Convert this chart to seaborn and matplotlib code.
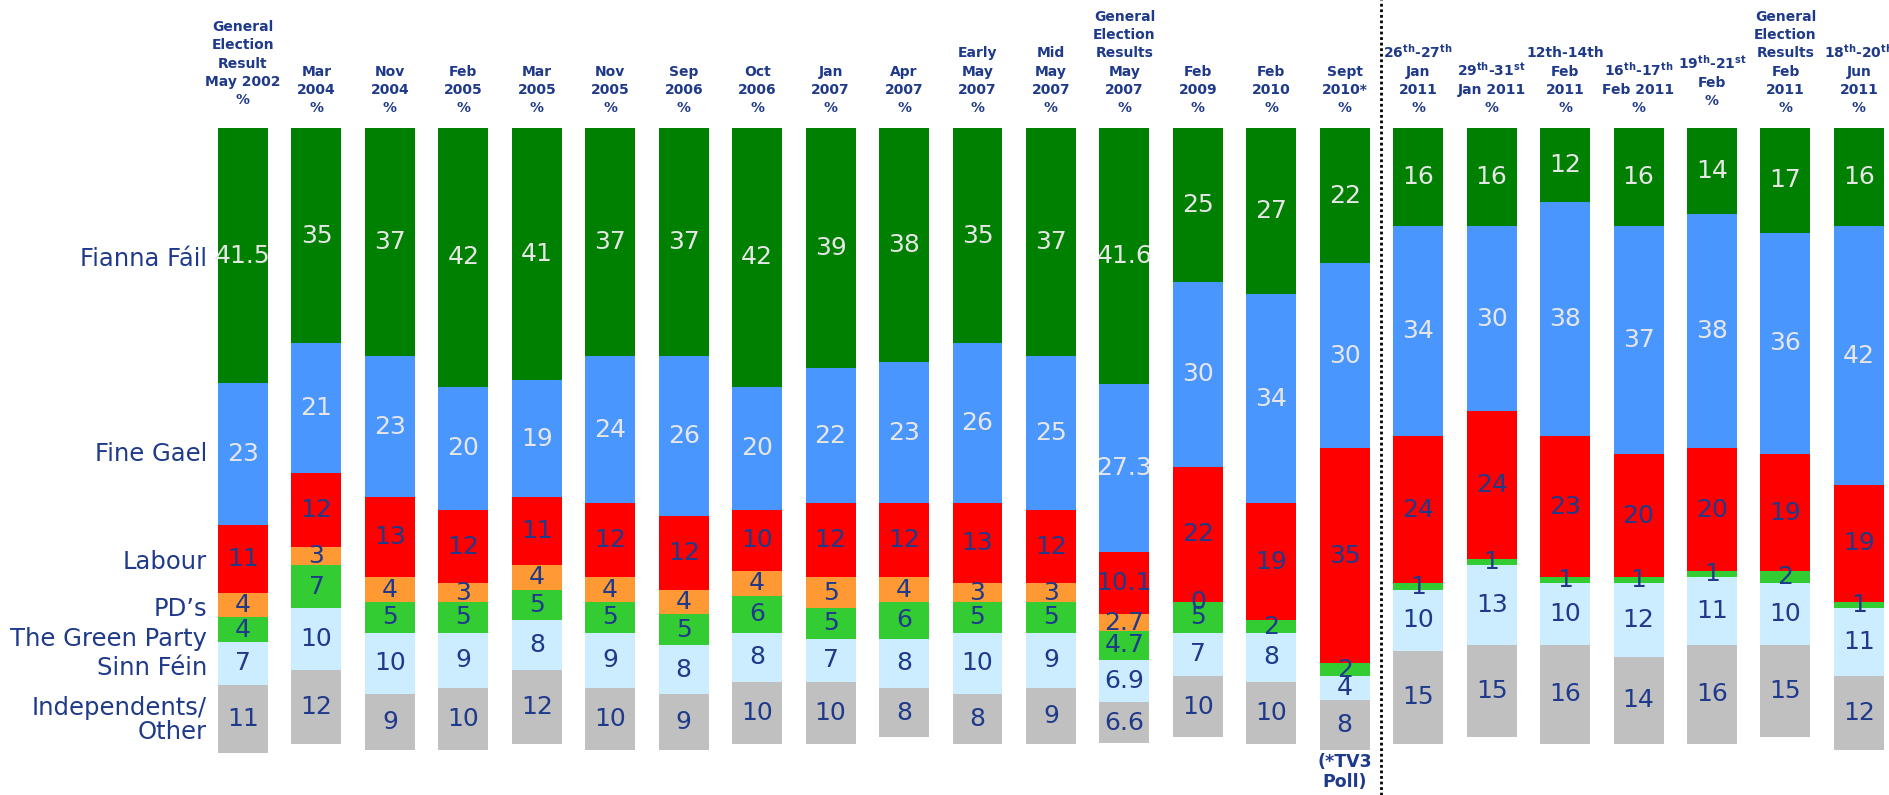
import numpy as np
import pandas as pd
import matplotlib
matplotlib.use("Agg")
import matplotlib.pyplot as plt
import seaborn as sns

# ---------------- data ----------------
headers = [
    "General\nElection\nResult\nMay 2002\n%",
    "Mar\n2004\n%", "Nov\n2004\n%", "Feb\n2005\n%", "Mar\n2005\n%",
    "Nov\n2005\n%", "Sep\n2006\n%", "Oct\n2006\n%", "Jan\n2007\n%",
    "Apr\n2007\n%", "Early\nMay\n2007\n%", "Mid\nMay\n2007\n%",
    "General\nElection\nResults\nMay\n2007\n%",
    "Feb\n2009\n%", "Feb\n2010\n%", "Sept\n2010*\n%",
    "26$^{th}$-27$^{th}$\nJan\n2011\n%",
    "29$^{th}$-31$^{st}$\nJan 2011\n%",
    "12th-14th\nFeb\n2011\n%",
    "16$^{th}$-17$^{th}$\nFeb 2011\n%",
    "19$^{th}$-21$^{st}$\nFeb\n%",
    "General\nElection\nResults\nFeb\n2011\n%",
    "18$^{th}$-20$^{th}$\nJun\n2011\n%",
]

parties = ["Fianna Fáil", "Fine Gael", "Labour", "PD\u2019s",
           "The Green Party", "Sinn Féin", "Independents/\nOther"]

nan = np.nan
fianna_fail = [41.5, 35, 37, 42, 41, 37, 37, 42, 39, 38, 35, 37, 41.6,
               25, 27, 22, 16, 16, 12, 16, 14, 17, 16]
fine_gael = [23, 21, 23, 20, 19, 24, 26, 20, 22, 23, 26, 25, 27.3,
             30, 34, 30, 34, 30, 38, 37, 38, 36, 42]
labour = [11, 12, 13, 12, 11, 12, 12, 10, 12, 12, 13, 12, 10.1,
          22, 19, 35, 24, 24, 23, 20, 20, 19, 19]
progressive_democrats = [4, 3, 4, 3, 4, 4, 4, 4, 5, 4, 3, 3, 2.7,
                         0, nan, nan, nan, nan, nan, nan, nan, nan, nan]
green_party = [4, 7, 5, 5, 5, 5, 5, 6, 5, 6, 5, 5, 4.7,
               5, 2, 2, 1, 1, 1, 1, 1, 2, 1]
sinn_fein = [7, 10, 10, 9, 8, 9, 8, 8, 7, 8, 10, 9, 6.9,
             7, 8, 4, 10, 13, 10, 12, 11, 10, 11]
independents = [11, 12, 9, 10, 12, 10, 9, 10, 10, 8, 8, 9, 6.6,
                10, 10, 8, 15, 15, 16, 14, 16, 15, 12]

series = [fianna_fail, fine_gael, labour, progressive_democrats,
          green_party, sinn_fein, independents]

# ---------------- style ----------------
colors = ["#008000", "#4A96FF", "#FF0000", "#FF9933",
          "#33CC33", "#CCECFF", "#C0C0C0"]
label_colors = ["#E6E6E6", "#E6E6E6", "#1F3A8A", "#1F3A8A",
                "#1F3A8A", "#1F3A8A", "#1F3A8A"]
navy = "#1F3A8A"
# small vertical nudges (in pixels) of the left-hand party names
name_nudge_px = [3, 0, 3, 4, 9, 5, 1]

sns.set_theme(style="white")
plt.rcParams["font.family"] = ["DejaVu Sans"]
plt.rcParams["mathtext.default"] = "bf"

df = pd.DataFrame({p: v for p, v in zip(parties, series)})
df.insert(0, "poll", headers)
cum = df[parties].fillna(0).cumsum(axis=1)

W, H, DPI = 1890, 795, 100
fig = plt.figure(figsize=(W / DPI, H / DPI), dpi=DPI)
ax = fig.add_axes([0, 0, 1, 1])

# overlapping cumulative bars -> stacked look (drawn from the top downwards)
for k in range(len(parties) - 1, -1, -1):
    sns.barplot(x=df["poll"], y=cum[parties[k]], order=headers,
                color=colors[k], saturation=1, width=0.68, linewidth=0,
                errorbar=None, ax=ax)

# pixel -> data mapping (col 0 at 243 px, 73.45 px per column; top at 128 px, 6.155 px per %)
x0_px, dx_px = 243, 73.45
y0_px, dy_px = 128, 6.155
ax.set_xlim(-x0_px / dx_px, (W - x0_px) / dx_px)
ax.set_ylim((H - y0_px) / dy_px, -y0_px / dy_px)
ax.axis("off")

def ypx(p):
    return (p - y0_px) / dy_px

# value labels
for i in range(len(headers)):
    base = 0.0
    for k, p in enumerate(parties):
        v = df[p].iloc[i]
        if not np.isnan(v):
            ax.text(i, base + v / 2, f"{v:g}", ha="center", va="center",
                    fontsize=18, color=label_colors[k])
            base += v

# left party labels, aligned with the first column's segments
base = 0.0
for k, p in enumerate(parties):
    v = df[p].iloc[0]
    ax.text((207 - x0_px) / dx_px, base + v / 2 + name_nudge_px[k] / dy_px, p,
            ha="right", va="center", fontsize=17.5, color=navy,
            linespacing=1.0, multialignment="right")
    base += v

# column headers
header_raise = {0: 8, 20: 7}
for i, h in enumerate(headers):
    ax.text(i, ypx(115 - header_raise.get(i, 0)), h, ha="center", va="bottom",
            fontsize=10, fontweight="bold", color=navy, linespacing=1.38,
            multialignment="center")

# TV3 note
ax.text(15, ypx(753), "(*TV3\nPoll)", ha="center", va="top", fontsize=12.5,
        fontweight="bold", color=navy, linespacing=1.15)

# dotted separator
ax.axvline(15.5, color="black", linestyle=(0, (1, 1)), linewidth=2)

fig.savefig("out.png", dpi=DPI)
